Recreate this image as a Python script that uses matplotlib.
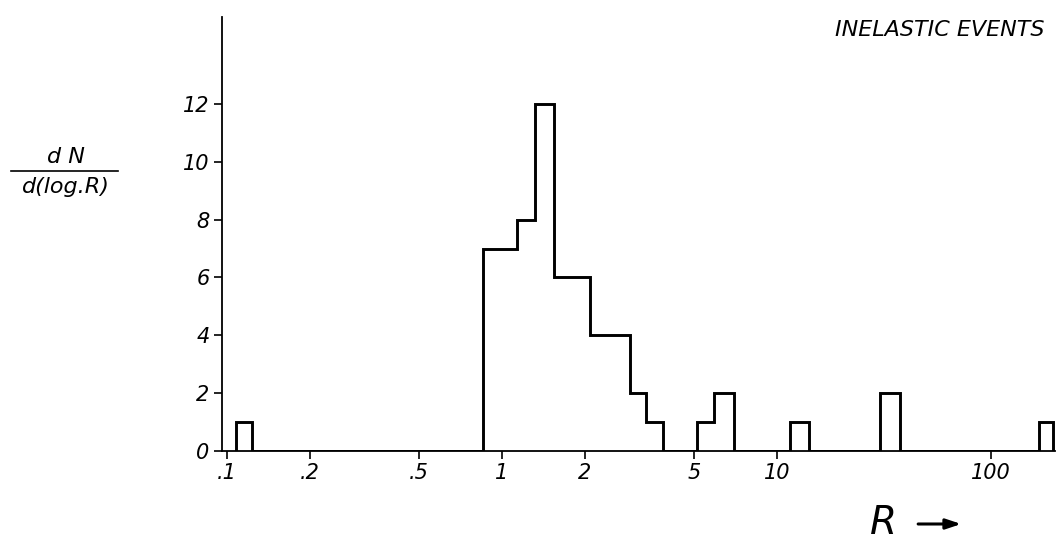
import matplotlib
matplotlib.use("Agg")
import matplotlib.pyplot as plt
from matplotlib.lines import Line2D
import numpy as np

# bin edges (R) and counts
edges = [0.108, 0.123, 0.85, 1.135, 1.318, 1.546, 2.096, 2.92, 3.35, 3.85,
         5.14, 5.88, 7.0, 11.5, 14.1, 30.5, 37.6, 168, 196]
counts = [1, 0, 7, 8, 12, 6, 4, 2, 1, 0, 1, 2, 0, 1, 0, 2, 0, 1]

xticks = [0.1, 0.2, 0.5, 1, 2, 5, 10, 100]
xticklabels = [".1", ".2", ".5", "1", "2", "5", "10", "100"]
yticks = [0, 2, 4, 6, 8, 10, 12]

# the original axis is drawn with a shorter decade above R=10
k = 0.777


def fwd(x):
    lx = np.log10(np.clip(x, 1e-6, None))
    return np.where(lx <= 1, lx, 1 + k * (lx - 1))


def inv(u):
    u = np.asarray(u, dtype=float)
    return np.where(u <= 1, 10 ** u, 10 ** (1 + (u - 1) / k))


plt.rcParams['font.family'] = ['DejaVu Sans']

fig = plt.figure(figsize=(10.57, 5.51), dpi=100)
ax = fig.add_axes([0.210, 0.1815, 0.788, 0.7875])

ax.stairs(counts, edges, baseline=0, fill=False, color='black', lw=2.1)

ax.set_xscale('function', functions=(fwd, inv))
ax.set_xlim(0.0959, 200)
ax.set_ylim(0, 15)

ax.set_xticks(xticks)
ax.set_xticklabels(xticklabels, fontstyle='italic', fontsize=15)
ax.xaxis.set_minor_locator(matplotlib.ticker.NullLocator())
ax.set_yticks(yticks)
ax.set_yticklabels([str(v) for v in yticks], fontstyle='italic', fontsize=15)

for s in ['top', 'right']:
    ax.spines[s].set_visible(False)
for s in ['left', 'bottom']:
    ax.spines[s].set_linewidth(1.3)
ax.tick_params(axis='both', direction='out', length=6, width=1.2, pad=3)

fig.text(0.988, 0.945, "INELASTIC EVENTS", ha='right', va='center',
         fontstyle='italic', fontsize=16)

# y label as a hand-written fraction
fig.text(0.062, 0.715, "d N", ha='center', va='center', fontstyle='italic', fontsize=16)
fig.add_artist(Line2D([0.010, 0.112], [0.690, 0.690], color='black', lw=1.2,
                      transform=fig.transFigure))
fig.text(0.062, 0.660, "d(log.R)", ha='center', va='center', fontstyle='italic',
         fontsize=16)

fig.text(0.823, 0.050, "R", ha='left', va='center', fontstyle='italic', fontsize=28)
ax.annotate("", xy=(0.912, 0.049), xytext=(0.866, 0.049), xycoords='figure fraction',
            textcoords='figure fraction',
            arrowprops=dict(arrowstyle='-|>,head_length=0.9,head_width=0.3',
                            color='black', lw=2.2))

fig.savefig("out.png", dpi=100, facecolor='white')
